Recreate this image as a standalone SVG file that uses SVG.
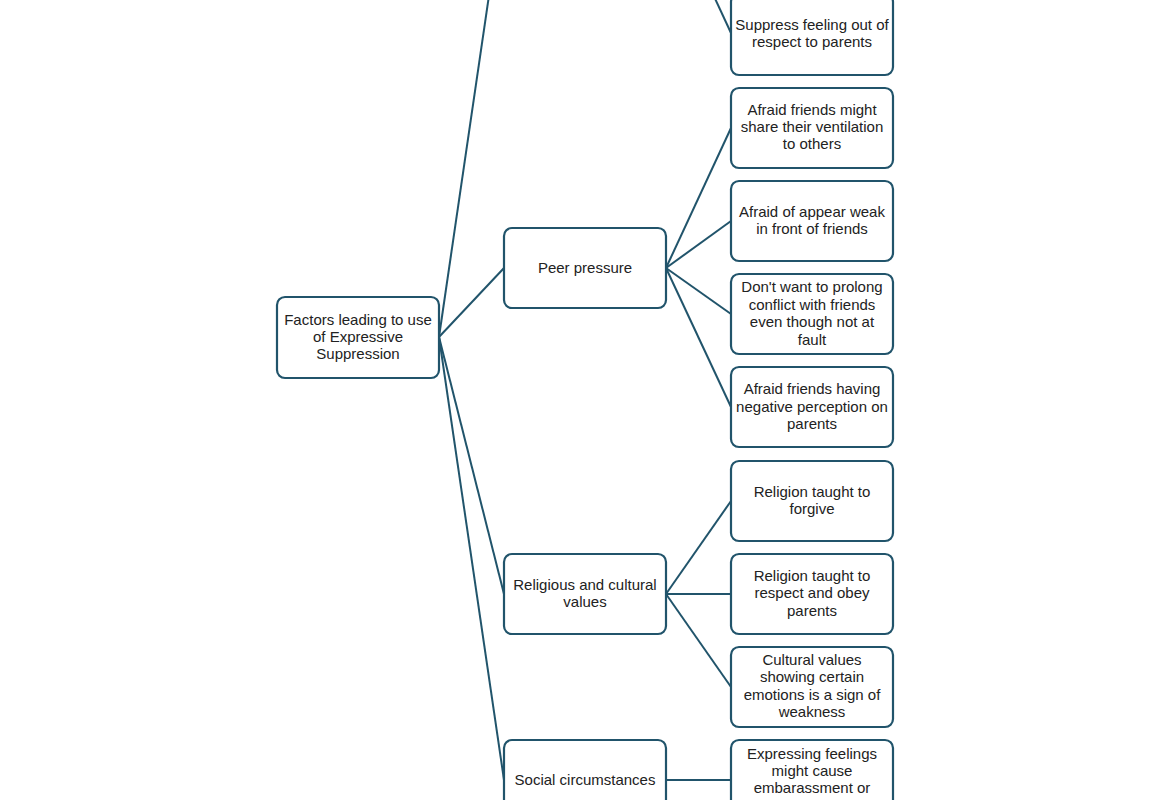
<svg xmlns="http://www.w3.org/2000/svg" width="1170" height="800" viewBox="0 0 1170 800">
<style>
.box{fill:#ffffff;stroke:#21546b;stroke-width:2.2}
.ln{stroke:#21546b;stroke-width:2;fill:none}
text{font-family:"Liberation Sans","Open Sans",Arial,sans-serif;font-size:15px;fill:#222222;text-anchor:middle}
</style>
<rect width="1170" height="800" fill="#ffffff"/>
<g id="connectors">
<line class="ln" x1="439" y1="337" x2="504" y2="-107"/>
<line class="ln" x1="439" y1="337" x2="504" y2="268"/>
<line class="ln" x1="439" y1="337" x2="504" y2="594"/>
<line class="ln" x1="439" y1="337" x2="504" y2="780"/>
<line class="ln" x1="666" y1="-107" x2="731" y2="33"/>
<line class="ln" x1="666" y1="268" x2="731" y2="128"/>
<line class="ln" x1="666" y1="268" x2="731" y2="221"/>
<line class="ln" x1="666" y1="268" x2="731" y2="314"/>
<line class="ln" x1="666" y1="268" x2="731" y2="407"/>
<line class="ln" x1="666" y1="594" x2="731" y2="501"/>
<line class="ln" x1="666" y1="594" x2="731" y2="594"/>
<line class="ln" x1="666" y1="594" x2="731" y2="687"/>
<line class="ln" x1="666" y1="780" x2="731" y2="780"/>
</g>
<g id="root">
<rect class="box" x="277" y="297" width="162" height="81" rx="8"/>
<text x="358" y="325">Factors leading to use</text>
<text x="358" y="342">of Expressive</text>
<text x="358" y="359">Suppression</text>
</g>
<g id="peer">
<rect class="box" x="504" y="228" width="162" height="80" rx="8"/>
<text x="585" y="273">Peer pressure</text>
</g>
<g id="religious">
<rect class="box" x="504" y="554" width="162" height="80" rx="8"/>
<text x="585" y="590">Religious and cultural</text>
<text x="585" y="607">values</text>
</g>
<g id="social">
<rect class="box" x="504" y="740" width="162" height="80" rx="8"/>
<text x="585" y="785">Social circumstances</text>
</g>
<g id="leaf-suppress">
<rect class="box" x="731" y="-6" width="162" height="81" rx="8"/>
<text x="812" y="30">Suppress feeling out of</text>
<text x="812" y="47">respect to parents</text>
</g>
<g id="leaf-share">
<rect class="box" x="731" y="88" width="162" height="80" rx="8"/>
<text x="812" y="115">Afraid friends might</text>
<text x="812" y="132">share their ventilation</text>
<text x="812" y="149">to others</text>
</g>
<g id="leaf-weak">
<rect class="box" x="731" y="181" width="162" height="80" rx="8"/>
<text x="812" y="217">Afraid of appear weak</text>
<text x="812" y="234">in front of friends</text>
</g>
<g id="leaf-conflict">
<rect class="box" x="731" y="274" width="162" height="80" rx="8"/>
<text x="812" y="292">Don't want to prolong</text>
<text x="812" y="310">conflict with friends</text>
<text x="812" y="327">even though not at</text>
<text x="812" y="345">fault</text>
</g>
<g id="leaf-perception">
<rect class="box" x="731" y="367" width="162" height="80" rx="8"/>
<text x="812" y="394">Afraid friends having</text>
<text x="812" y="412">negative perception on</text>
<text x="812" y="429">parents</text>
</g>
<g id="leaf-forgive">
<rect class="box" x="731" y="461" width="162" height="80" rx="8"/>
<text x="812" y="497">Religion taught to</text>
<text x="812" y="514">forgive</text>
</g>
<g id="leaf-obey">
<rect class="box" x="731" y="554" width="162" height="80" rx="8"/>
<text x="812" y="581">Religion taught to</text>
<text x="812" y="598">respect and obey</text>
<text x="812" y="616">parents</text>
</g>
<g id="leaf-cultural">
<rect class="box" x="731" y="647" width="162" height="80" rx="8"/>
<text x="812" y="665">Cultural values</text>
<text x="812" y="682">showing certain</text>
<text x="812" y="700">emotions is a sign of</text>
<text x="812" y="717">weakness</text>
</g>
<g id="leaf-embarass">
<rect class="box" x="731" y="740" width="162" height="80" rx="8"/>
<text x="812" y="759">Expressing feelings</text>
<text x="812" y="776">might cause</text>
<text x="812" y="793">embarassment or</text>
</g>
</svg>
